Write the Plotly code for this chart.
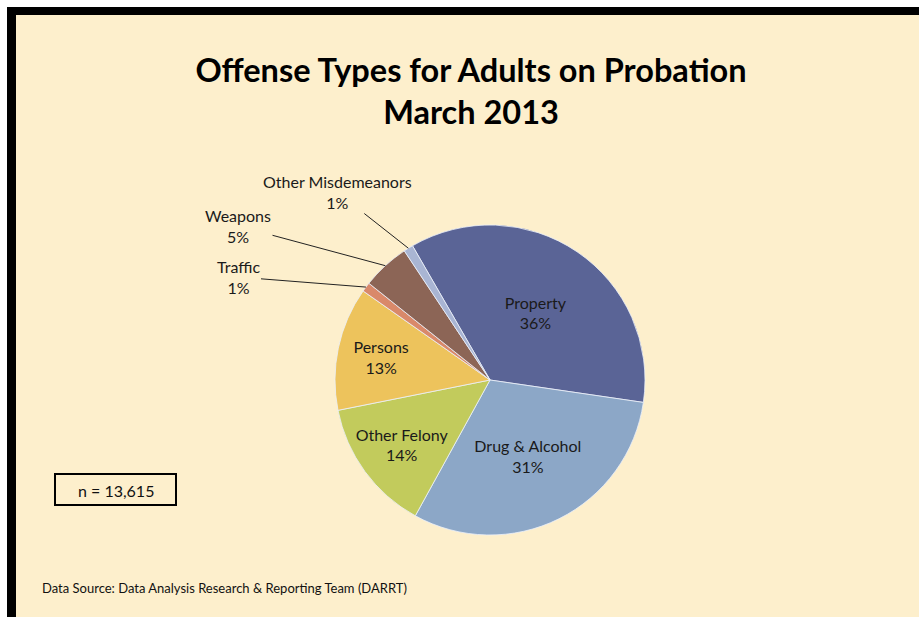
import math
import plotly.graph_objects as go

# Offense categories (clockwise from the top-left) and their shares in percent
categories = ["Property", "Drug & Alcohol", "Other Felony", "Persons",
              "Traffic", "Weapons", "Other Misdemeanors"]
shares = [36, 31, 14, 13, 1, 5, 1]
colors = ["#5A6496", "#8CA7C7", "#C2CB5C", "#EDC35C",
          "#D9896A", "#8C6556", "#A9B5D3"]
outside_labels = {"Traffic", "Weapons", "Other Misdemeanors"}
total_cases = "13,615"

W, H = 919, 617
BG = "#FDEFCC"
FONT = "Lato"
LABEL_SIZE = 16

# pie geometry in pixels
CX, CY, R = 490, 380, 155
ROTATION = -30  # first slice starts 30 degrees left of 12 o'clock


def px(x):
    return x / W


def py(y):
    return 1 - y / H


text_tmpl = ["" if c in outside_labels else "%{label}<br>%{value}%" for c in categories]

fig = go.Figure(go.Pie(
    labels=categories,
    values=shares,
    sort=False,
    direction="clockwise",
    rotation=ROTATION,
    marker=dict(colors=colors, line=dict(color="rgba(235,240,250,0.8)", width=1)),
    texttemplate=text_tmpl,
    textposition="inside",
    insidetextorientation="horizontal",
    textfont=dict(family=FONT, size=LABEL_SIZE, color="#1a1a1a"),
    hoverinfo="label+value",
    showlegend=False,
    domain=dict(x=[px(CX - R), px(CX + R)], y=[py(CY + R), py(CY - R)]),
))

# leader-line labels for the small slices, anchored at each slice's mid angle
label_pos = {"Traffic": (238, 277), "Weapons": (238, 226), "Other Misdemeanors": (337, 192)}
total = sum(shares)
cum = 0.0
annotations = []
for cat, v in zip(categories, shares):
    mid = ROTATION + (cum + v / 2) / total * 360
    cum += v
    if cat not in outside_labels:
        continue
    hx = CX + R * math.sin(math.radians(mid))
    hy = CY - R * math.cos(math.radians(mid))
    tx, ty = label_pos[cat]
    annotations.append(dict(
        x=px(hx), y=py(hy), xref="paper", yref="paper",
        text=f"{cat}<br>{v}%", showarrow=True, arrowhead=0, arrowwidth=1,
        arrowcolor="#222222", ax=tx - hx, ay=ty - hy,
        font=dict(family=FONT, size=LABEL_SIZE, color="#1a1a1a"),
    ))

annotations.append(dict(
    x=px(115.5), y=py(490), xref="paper", yref="paper", showarrow=False,
    xanchor="center", yanchor="middle",
    text=f"n = {total_cases}", font=dict(family=FONT, size=16, color="#111111"),
))
annotations.append(dict(
    x=px(40), y=py(588), xref="paper", yref="paper", showarrow=False,
    xanchor="left", yanchor="middle",
    text="Data Source: Data Analysis Research & Reporting Team (DARRT)",
    font=dict(family=FONT, size=13, color="#111111"),
))

# frame: white page edge with a thick black rule on top and left, plus the n box
shapes = [
    dict(type="rect", xref="paper", yref="paper", x0=0, x1=1, y0=py(7), y1=1,
         fillcolor="#FFFFFF", line=dict(width=0)),
    dict(type="rect", xref="paper", yref="paper", x0=0, x1=px(7), y0=0, y1=1,
         fillcolor="#FFFFFF", line=dict(width=0)),
    dict(type="rect", xref="paper", yref="paper", x0=px(7), x1=1, y0=py(15), y1=py(7),
         fillcolor="#000000", line=dict(width=0)),
    dict(type="rect", xref="paper", yref="paper", x0=px(7), x1=px(16), y0=0, y1=py(7),
         fillcolor="#000000", line=dict(width=0)),
    dict(type="rect", xref="paper", yref="paper", x0=px(55), x1=px(176),
         y0=py(505), y1=py(474), line=dict(color="#000000", width=2)),
]

fig.update_layout(
    width=W, height=H,
    margin=dict(l=0, r=0, t=0, b=0),
    paper_bgcolor=BG,
    title=dict(
        text="<b>Offense Types for Adults on Probation<br>March 2013</b>",
        x=px(471), xanchor="center", y=py(82), yanchor="middle",
        font=dict(family=FONT, size=32.5, color="#000000"),
    ),
    uniformtext=dict(minsize=LABEL_SIZE, mode="show"),
    annotations=annotations,
    shapes=shapes,
)

fig.write_html("out.html")
